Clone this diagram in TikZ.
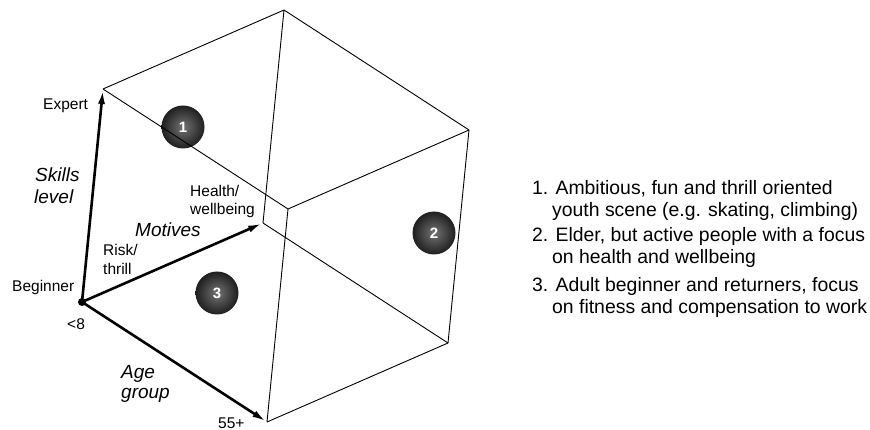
\documentclass[tikz,border=0pt]{standalone}
\usepackage{fontspec}
\setmainfont{Liberation Sans}
\usetikzlibrary{arrows.meta,positioning}

\begin{document}
\begin{tikzpicture}[x=1pt,y=-1pt]
\tikzstyle{edge}=[line width=0.9pt]
\tikzstyle{axis}=[line width=2.6pt, -{Latex[length=14pt,width=7pt]}, shorten >=1pt]
\tikzstyle{ball}=[circle, minimum size=43pt, inner sep=0pt, shading=radial, inner color=black!55, outer color=black!88, text=white, font=\fontsize{15}{15}\selectfont\bfseries]
\tikzstyle{lbl}=[inner sep=0pt, anchor=base west, font=\fontsize{15.5}{18}\selectfont]
\tikzstyle{ttl}=[inner sep=0pt, anchor=base west, font=\fontsize{19}{22}\selectfont\itshape]
\tikzstyle{txt}=[inner sep=0pt, anchor=base west, font=\fontsize{19.4}{22}\selectfont]
\useasboundingbox (0,0) rectangle (870,430);
% cube corners, index = age motives skills
\coordinate (v000) at (82,302);
\coordinate (v001) at (103,89);
\coordinate (v010) at (263,223);
\coordinate (v011) at (284,10);
\coordinate (v100) at (267,422);
\coordinate (v101) at (288,209);
\coordinate (v110) at (448,343);
\coordinate (v111) at (469,130);
% groups
\node[ball] (b1) at (183,127) {1};
\node[ball] (b2) at (434,233) {2};
\node[ball] (b3) at (217,293) {3};
\foreach \a/\b in {001/011,001/101,011/111,011/010,111/101,111/110,110/100,110/010,101/100}
  {\draw[edge] (v\a) -- (v\b);}
\draw[axis] (v000) -- (v001);
\draw[axis] (v000) -- (v010);
\draw[axis] (v000) -- (v100);
\fill (v000) circle (4pt);
% axis labels
\node[lbl] (expert) at (43,109.5) {Expert};
\node[lbl] (beginner) at (12,291) {Beginner};
\node[lbl] (young) at (67,330) {<8};
\node[lbl] (old) at (218,428) {55+};
\node[lbl] (health1) at (190,197) {Health/};
\node[lbl] (health2) at (190,215) {wellbeing};
\node[lbl] (risk1) at (103,256) {Risk/};
\node[lbl] (risk2) at (103,275) {thrill};
\node[ttl] (skills1) at (35,182) {Skills};
\node[ttl] (skills2) at (34,204) {level};
\node[ttl] (motives) at (135,237) {Motives};
\node[ttl] (age1) at (121,378) {Age};
\node[ttl] (age2) at (121,398) {group};
% legend
\node[txt] (g1a) at (532,195) {1. Ambitious, fun and thrill oriented};
\node[txt] (g1b) at (552,217) {youth scene (e.g. skating, climbing)};
\node[txt] (g2a) at (532,242) {2. Elder, but active people with a focus};
\node[txt] (g2b) at (552,264) {on health and wellbeing};
\node[txt] (g3a) at (532,291) {3. Adult beginner and returners, focus};
\node[txt] (g3b) at (552,313) {on fitness and compensation to work};
\end{tikzpicture}
\end{document}
